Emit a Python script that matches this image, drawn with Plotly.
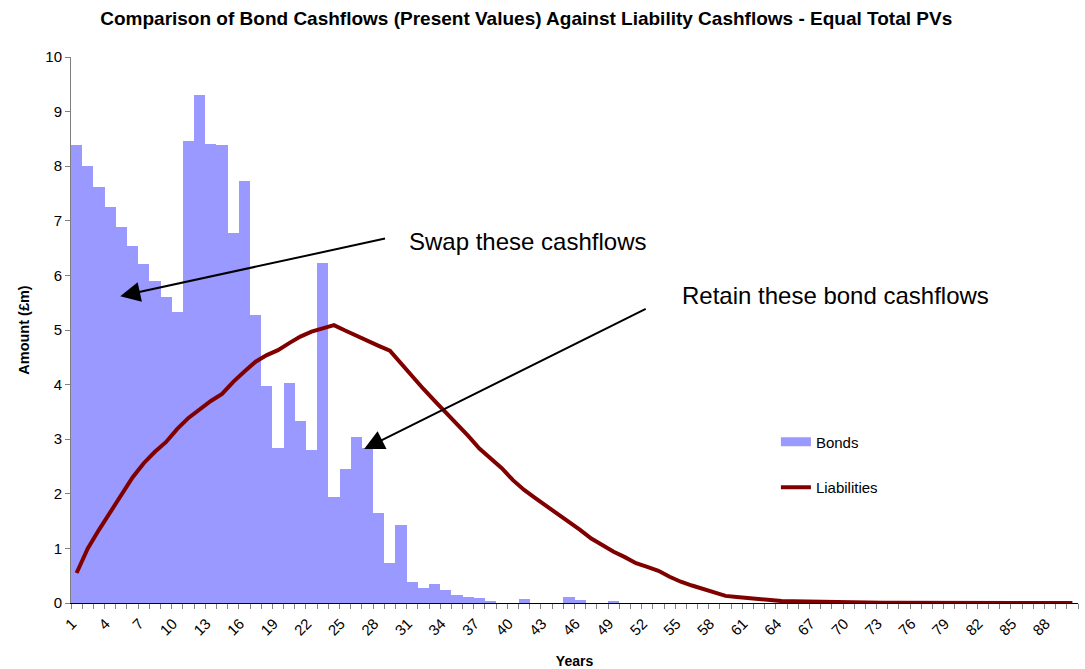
import plotly.graph_objects as go

# Years 1..90
years = list(range(1, 91))

# Present value of bond cashflows per year (£m)
bonds = [
    8.39, 8.00, 7.62, 7.25, 6.89, 6.54, 6.21, 5.90, 5.61, 5.33,
    8.46, 9.30, 8.41, 8.39, 6.78, 7.73, 5.27, 3.97, 2.84, 4.03,
    3.34, 2.81, 6.23, 1.95, 2.45, 3.04, 2.83, 1.64, 0.73, 1.43,
    0.38, 0.27, 0.35, 0.24, 0.15, 0.11, 0.09, 0.04, 0.00, 0.00,
    0.07, 0.00, 0.00, 0.00, 0.11, 0.05, 0.00, 0.00, 0.02, 0.00,
] + [0.0] * 40

# Present value of liability cashflows per year (£m)
liabilities = [
    0.55, 1.00, 1.34, 1.67, 2.00, 2.30, 2.56, 2.77, 2.95, 3.19,
    3.39, 3.55, 3.70, 3.83, 4.05, 4.24, 4.42, 4.54, 4.63, 4.76,
    4.88, 4.97, 5.03, 5.09, 4.99, 4.89, 4.80, 4.71, 4.62, 4.38,
    4.14, 3.92, 3.70, 3.49, 3.28, 3.06, 2.83, 2.64, 2.47, 2.25,
    2.07, 1.92, 1.78, 1.64, 1.49, 1.34, 1.18, 1.05, 0.94, 0.84,
    0.73, 0.66, 0.59, 0.48, 0.39, 0.32, 0.26, 0.20, 0.13, 0.11,
    0.09, 0.07, 0.05, 0.035, 0.03, 0.025, 0.02, 0.015, 0.012, 0.01,
    0.008, 0.007, 0.006, 0.005, 0.005, 0.004, 0.004, 0.003, 0.003, 0.003,
    0.002, 0.002, 0.002, 0.002, 0.001, 0.001, 0.001, 0.001, 0.001, 0.001,
]

# Every third year carries a tick label
tick_years = years[::3]
tick_labels = [str(y) for y in tick_years]

FONT = "Liberation Sans, Arial, sans-serif"
BOND_COLOR = "#9999FF"
LIAB_COLOR = "#800000"

fig = go.Figure()
fig.add_trace(go.Bar(
    x=years, y=bonds, name="Bonds",
    marker=dict(color=BOND_COLOR, line=dict(width=0)),
    showlegend=False,
))
fig.add_trace(go.Scatter(
    x=years, y=liabilities, name="Liabilities", mode="lines",
    line=dict(color=LIAB_COLOR, width=4),
    showlegend=False,
))
# Legend keys: a flat swatch for the bonds and a thick line for the liabilities
fig.add_trace(go.Scatter(
    x=[None], y=[None], name="Bonds", mode="lines",
    line=dict(color=BOND_COLOR, width=9), legendgroup="b",
))
fig.add_trace(go.Scatter(
    x=[None], y=[None], name="Liabilities", mode="lines",
    line=dict(color=LIAB_COLOR, width=4), legendgroup="l",
))

fig.update_layout(
    width=1085, height=669,
    margin=dict(l=71, r=7, t=57, b=66),
    paper_bgcolor="white", plot_bgcolor="white",
    bargap=0,
    font=dict(family=FONT, color="black"),
    title=dict(
        text="<b>Comparison of Bond Cashflows (Present Values) Against Liability Cashflows - Equal Total PVs</b>",
        x=0.485, xanchor="center", y=1 - 18 / 669, yanchor="middle",
        font=dict(size=19, family=FONT),
    ),
    xaxis=dict(
        range=[0.5, 90.5], automargin=False,
        tickmode="array", tickvals=[y - 0.4 for y in tick_years], ticktext=tick_labels,
        tickangle=-45, ticks="", tickfont=dict(size=15), ticklabelstandoff=5,
        showline=True, linecolor="black", linewidth=1,
        showgrid=False, zeroline=False,
        minor=dict(tick0=0.5, dtick=1, ticks="outside", ticklen=5,
                   tickcolor="#808080", showgrid=False),
        title=dict(text="<b>Years</b>", font=dict(size=14), standoff=18),
    ),
    yaxis=dict(
        range=[0, 10], dtick=1, ticks="outside", ticklen=5, tickcolor="#808080",
        tickfont=dict(size=15), automargin=False,
        showline=True, linecolor="#808080", linewidth=1,
        showgrid=False, zeroline=False,
        title=dict(text="<b>Amount (£m)</b>", font=dict(size=14.5), standoff=12),
    ),
    legend=dict(
        x=0.700, y=0.325, xanchor="left", yanchor="top",
        font=dict(size=15), tracegroupgap=23, bgcolor="rgba(0,0,0,0)",
        itemwidth=30,
    ),
    showlegend=True,
)

# Callouts with arrows
fig.add_annotation(
    x=4.9, y=5.62, ax=28.7, ay=6.68, xref="x", yref="y", axref="x", ayref="y",
    text="", showarrow=True, arrowhead=2, arrowsize=2, arrowwidth=2, arrowcolor="black",
)
fig.add_annotation(
    x=30.5, y=6.63, xref="x", yref="y", xanchor="left", yanchor="middle",
    text="Swap these cashflows", showarrow=False, font=dict(size=24, family=FONT),
)
fig.add_annotation(
    x=26.7, y=2.82, ax=52.0, ay=5.40, xref="x", yref="y", axref="x", ayref="y",
    text="", showarrow=True, arrowhead=2, arrowsize=2, arrowwidth=2, arrowcolor="black",
)
fig.add_annotation(
    x=54.9, y=5.64, xref="x", yref="y", xanchor="left", yanchor="middle",
    text="Retain these bond cashflows", showarrow=False, font=dict(size=24, family=FONT),
)

fig.write_html("out.html")
